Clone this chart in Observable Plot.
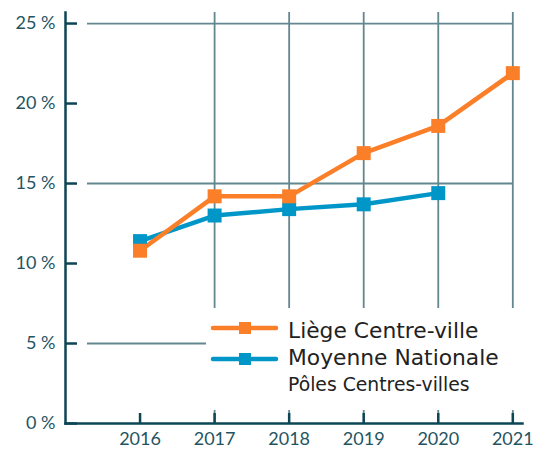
<!DOCTYPE html>
<html><head><meta charset="utf-8">
<script src="https://cdn.jsdelivr.net/npm/d3@7"></script>
<script src="https://cdn.jsdelivr.net/npm/@observablehq/plot@0.6"></script>
<style>
body{margin:0;background:#fff;}
#wrap{position:relative;width:535px;height:451px;font-family:Lato,sans-serif;}
#legend{position:absolute;left:206px;top:308px;width:324px;height:102px;background:#fff;}
</style></head><body><div id="wrap"><div id="legend"></div></div>
<script>
const years = [2016, 2017, 2018, 2019, 2020, 2021];
const liege = [10.8, 14.2, 14.2, 16.9, 18.6, 21.9];
const nationalYears = [2016, 2017, 2018, 2019, 2020];
const national = [11.4, 13.0, 13.4, 13.7, 14.4];
const yTicks = [0, 5, 10, 15, 20, 25];
const gridY = [5, 15, 25];
const gridX = [2017, 2018, 2019, 2020, 2021];
const seriesNames = ["Liège Centre-ville", "Moyenne Nationale"];
const legendSub = "Pôles Centres-villes";
const colors = ["#FB7E28", "#0097C8"];

const axisColor = "#0c4655";
const gridColor = "#62878f";
const textColor = "#1f5562";

const data = [
  ...nationalYears.map((y, i) => ({year: y, value: national[i], series: seriesNames[1]})),
  ...years.map((y, i) => ({year: y, value: liege[i], series: seriesNames[0]}))
];

const chart = Plot.plot({
  width: 535, height: 451,
  marginLeft: 65, marginRight: 13, marginTop: 12, marginBottom: 28,
  style: {fontFamily: "Lato, sans-serif", fontSize: "18px", color: textColor, background: "transparent"},
  x: {domain: [2015, 2021.13], label: null},
  y: {domain: [0, 25.69], label: null},
  color: {domain: seriesNames, range: colors},
  marks: [
    Plot.ruleY(gridY, {stroke: gridColor, strokeWidth: 1.8, insetLeft: 22, insetRight: 9.7}),
    Plot.ruleX(gridX, {stroke: gridColor, strokeWidth: 1.8}),
    Plot.frame({anchor: "left", stroke: axisColor, strokeWidth: 2.5}),
    Plot.frame({anchor: "bottom", stroke: axisColor, strokeWidth: 2.5}),
    Plot.axisY({ticks: yTicks, tickSize: 12, dx: 12, text: null, stroke: axisColor, strokeWidth: 2.5, label: null}),
    Plot.axisY({ticks: yTicks, tickSize: 0, tickPadding: 10, tickFormat: d => d + " %", fill: textColor, label: null}),
    Plot.axisX({ticks: years, tickSize: 10, dy: -10, text: null, stroke: axisColor, strokeWidth: 2.5, label: null}),
    Plot.axisX({ticks: years, tickSize: 0, tickPadding: 9, tickFormat: d => String(d), fill: textColor, label: null}),
    Plot.line(data, {x: "year", y: "value", stroke: "series", z: "series", strokeWidth: 4.5}),
    Plot.dot(data, {x: "year", y: "value", fill: "series", symbol: "square", r: 7.9})
  ]
});
const wrap = document.getElementById("wrap");
wrap.insertBefore(chart, wrap.firstChild);

// legend
const lg = d3.select("#legend").append("svg").attr("width", 324).attr("height", 102)
  .style("font-family", "'DejaVu Sans', sans-serif");
const rows = [
  {name: seriesNames[0], color: colors[0], y: 20, base: 30},
  {name: seriesNames[1], color: colors[1], y: 51, base: 57}
];
rows.forEach(r => {
  lg.append("line").attr("x1", 7).attr("x2", 70).attr("y1", r.y).attr("y2", r.y)
    .attr("stroke", r.color).attr("stroke-width", 4.5).attr("stroke-linecap", "round");
  lg.append("rect").attr("x", 33).attr("y", r.y - 6).attr("width", 12).attr("height", 12).attr("fill", r.color);
  lg.append("text").attr("x", 82).attr("y", r.base).attr("font-size", 21.8).attr("fill", "#222").text(r.name);
});
lg.append("text").attr("x", 82).attr("y", 83).attr("font-size", 18.8).attr("fill", "#222").text(legendSub);
</script></body></html>
